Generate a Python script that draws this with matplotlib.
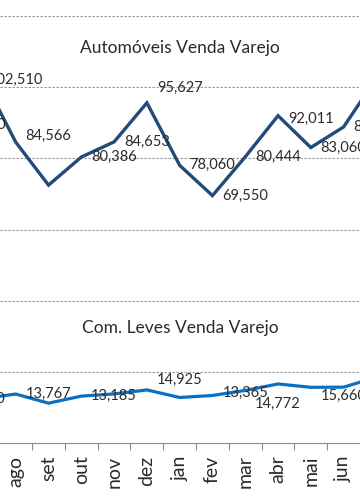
import matplotlib
matplotlib.use("Agg")
from matplotlib import pyplot as plt
import numpy as np

plt.rcParams['font.family'] = ['Lato', 'DejaVu Sans']

months = ['jun', 'jul', 'ago', 'set', 'out', 'nov', 'dez', 'jan', 'fev', 'mar', 'abr', 'mai', 'jun', 'jul']
auto = [89300, 102510, 84566, 72500, 80386, 84653, 95627, 78060, 69550, 80444, 92011, 83060, 88850, 102600]
leves = [12400, 12500, 13767, 11200, 13185, 13800, 14925, 12800, 13365, 14772, 16600, 15660, 15700, 18500]

# which points carry a visible data label (label is drawn one category to the right)
auto_lbl = [0, 1, 2, 4, 5, 6, 7, 8, 9, 10, 11, 12]
leves_lbl = [0, 2, 4, 6, 8, 9, 11]
# small vertical nudges (px) like the excel labels
auto_dy = {2: 6, 6: 15, 10: -3, 1: -2}
leves_dy = {6: 10, 8: 3, 9: -13, 11: -9, 0: 0}

x = np.arange(len(months))
c_auto = '#234a7c'
c_leves = '#0b70c2'
txt = '#2b2b2b'

fig = plt.figure(figsize=(3.6, 5.04), dpi=100)
ax = fig.add_axes([0, 0.121, 1, 0.847])

ax.plot(x, auto, color=c_auto, lw=2.4, solid_joinstyle='miter', zorder=3)
ax.plot(x, leves, color=c_leves, lw=2.3, solid_joinstyle='miter', zorder=3)

for i in auto_lbl:
    ax.annotate(f'{auto[i]:,}', (x[i] + 1, auto[i]), xytext=(0, auto_dy.get(i, 0) * 0.72),
                textcoords='offset points', ha='center', va='center', fontsize=10.5, color=txt,
                zorder=4, annotation_clip=False)
for i in leves_lbl:
    ax.annotate(f'{leves[i]:,}', (x[i] + 1, leves[i]), xytext=(0, leves_dy.get(i, 0) * 0.72),
                textcoords='offset points', ha='center', va='center', fontsize=10.5, color=txt,
                zorder=4, annotation_clip=False)

ax.text(0.5, 0.925, 'Automóveis Venda Varejo', transform=ax.transAxes, ha='center', va='center',
        fontsize=12.5, color=txt)
ax.text(0.5, 0.269, 'Com. Leves Venda Varejo', transform=ax.transAxes, ha='center', va='center',
        fontsize=12.5, color=txt)

ax.set_yticks(np.arange(20000, 120001, 20000))
ax.yaxis.grid(True, color='#9a9a9a', lw=0.8, linestyle=(0, (2.2, 1.4)))
ax.tick_params(axis='y', length=0, labelleft=False)

ax.set_xticks(x)
ax.set_xticklabels(months, rotation=90, fontsize=14, color=txt)
ax.set_xticks(x[:-1] + 0.5, minor=True)
ax.tick_params(axis='x', which='major', length=0, pad=9)
ax.tick_params(axis='x', which='minor', length=5, width=0.8, color='#8c8c8c')
ax.set_xlim(1.52, 12.5)
ax.set_ylim(0, 120000)

for s in ['top', 'left', 'right']:
    ax.spines[s].set_visible(False)
ax.spines['bottom'].set_color('#8c8c8c')
ax.spines['bottom'].set_linewidth(0.8)

fig.savefig('out.png', dpi=100)
